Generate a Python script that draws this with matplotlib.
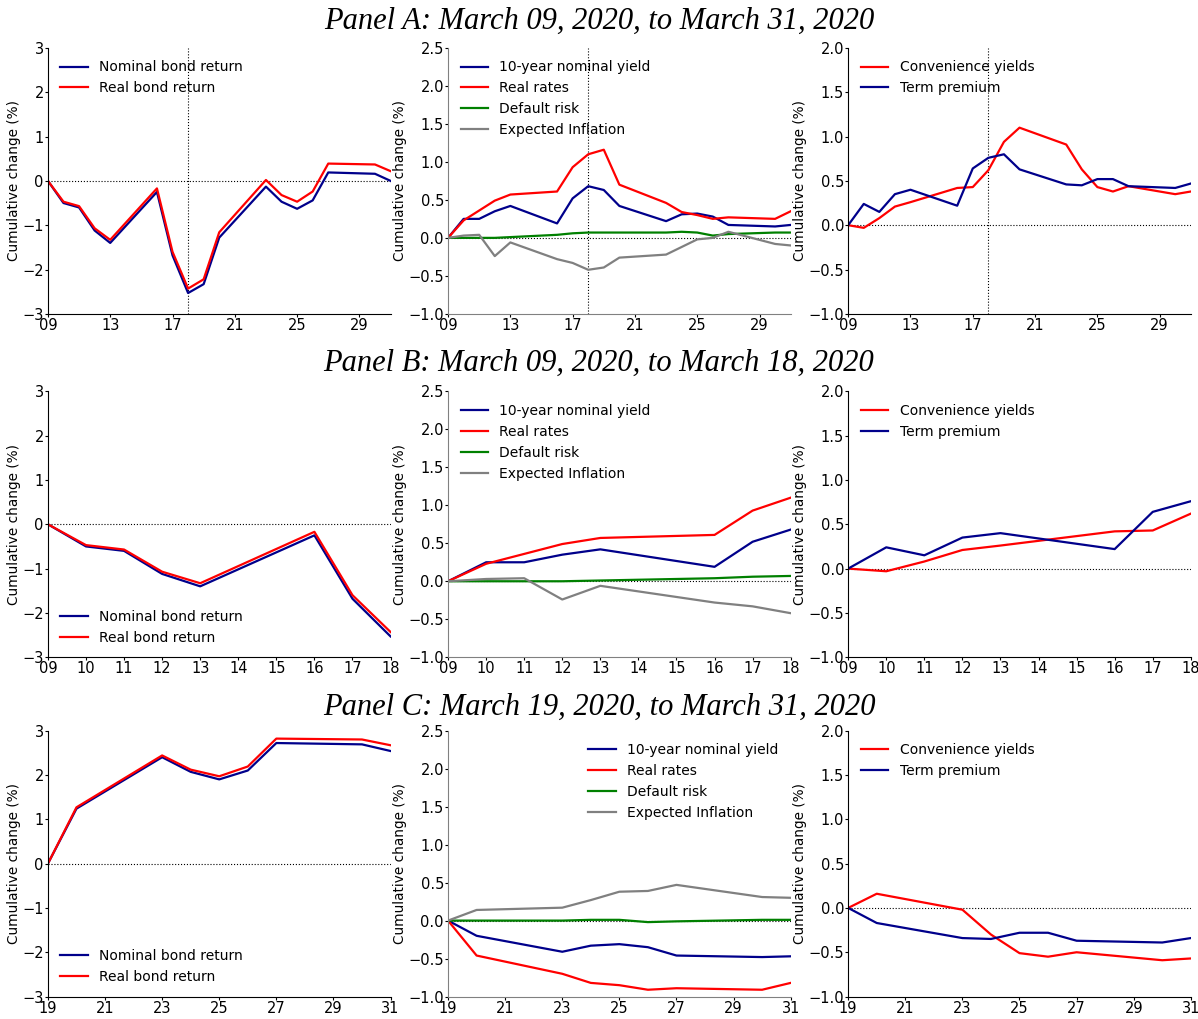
import matplotlib
matplotlib.use("Agg")
import matplotlib.pyplot as plt

# trading days (calendar day of March 2020)
days_a = [9, 10, 11, 12, 13, 16, 17, 18, 19, 20, 23, 24, 25, 26, 27, 30, 31]
days_b = [9, 10, 11, 12, 13, 16, 17, 18]
days_c = [19, 20, 23, 24, 25, 26, 27, 30, 31]

# Panel A
nom_ret_a = [0, -0.50, -0.60, -1.12, -1.40, -0.25, -1.68, -2.53, -2.33, -1.28, -0.13, -0.47, -0.63, -0.44, 0.19, 0.16, 0.00]
real_ret_a = [0, -0.47, -0.57, -1.07, -1.33, -0.17, -1.60, -2.43, -2.22, -1.16, 0.02, -0.32, -0.47, -0.24, 0.39, 0.37, 0.22]
nom_yld_a = [0, 0.25, 0.25, 0.35, 0.42, 0.19, 0.52, 0.68, 0.63, 0.42, 0.22, 0.31, 0.32, 0.28, 0.17, 0.15, 0.17]
real_rate_a = [0, 0.23, 0.36, 0.49, 0.57, 0.61, 0.93, 1.10, 1.16, 0.70, 0.46, 0.34, 0.30, 0.25, 0.27, 0.25, 0.35]
default_a = [0, 0.00, 0.00, 0.00, 0.01, 0.04, 0.06, 0.07, 0.07, 0.07, 0.07, 0.08, 0.07, 0.03, 0.05, 0.07, 0.07]
infl_a = [0, 0.03, 0.04, -0.24, -0.06, -0.28, -0.33, -0.42, -0.39, -0.26, -0.22, -0.12, -0.02, 0.00, 0.08, -0.08, -0.10]
conv_a = [0, -0.03, 0.08, 0.21, 0.26, 0.42, 0.43, 0.62, 0.94, 1.10, 0.91, 0.63, 0.43, 0.38, 0.44, 0.35, 0.38]
term_a = [0, 0.24, 0.15, 0.35, 0.40, 0.22, 0.64, 0.76, 0.80, 0.63, 0.46, 0.45, 0.52, 0.52, 0.44, 0.42, 0.47]

# Panel B
nom_ret_b = [0, -0.50, -0.60, -1.12, -1.40, -0.25, -1.68, -2.53]
real_ret_b = [0, -0.47, -0.57, -1.07, -1.33, -0.17, -1.60, -2.43]
nom_yld_b = [0, 0.25, 0.25, 0.35, 0.42, 0.19, 0.52, 0.68]
real_rate_b = [0, 0.23, 0.36, 0.49, 0.57, 0.61, 0.93, 1.10]
default_b = [0, 0.00, 0.00, 0.00, 0.01, 0.04, 0.06, 0.07]
infl_b = [0, 0.03, 0.04, -0.24, -0.06, -0.28, -0.33, -0.42]
conv_b = [0, -0.03, 0.08, 0.21, 0.26, 0.42, 0.43, 0.62]
term_b = [0, 0.24, 0.15, 0.35, 0.40, 0.22, 0.64, 0.76]

# Panel C
nom_ret_c = [0, 1.24, 2.40, 2.07, 1.90, 2.10, 2.72, 2.69, 2.54]
real_ret_c = [0, 1.27, 2.44, 2.12, 1.97, 2.19, 2.82, 2.80, 2.67]
nom_yld_c = [0, -0.20, -0.41, -0.33, -0.31, -0.35, -0.46, -0.48, -0.47]
real_rate_c = [0, -0.46, -0.70, -0.82, -0.85, -0.91, -0.89, -0.91, -0.82]
default_c = [0, 0.00, 0.00, 0.01, 0.01, -0.02, -0.01, 0.01, 0.01]
infl_c = [0, 0.14, 0.17, 0.27, 0.38, 0.39, 0.47, 0.31, 0.30]
conv_c = [0, 0.16, -0.02, -0.30, -0.51, -0.55, -0.50, -0.59, -0.57]
term_c = [0, -0.17, -0.34, -0.35, -0.28, -0.28, -0.37, -0.39, -0.34]

titles = ["Panel A: March 09, 2020, to March 31, 2020",
          "Panel B: March 09, 2020, to March 18, 2020",
          "Panel C: March 19, 2020, to March 31, 2020"]

navy = '#00008B'
ylab = 'Cumulative change (%)'

fig = plt.figure(figsize=(11.98, 10.19), dpi=100)

lefts = [0.040, 0.374, 0.708]
bottoms = [0.692, 0.355, 0.022]
w, h = 0.286, 0.261

rows = [
    (days_a, nom_ret_a, real_ret_a, nom_yld_a, real_rate_a, default_a, infl_a, conv_a, term_a),
    (days_b, nom_ret_b, real_ret_b, nom_yld_b, real_rate_b, default_b, infl_b, conv_b, term_b),
    (days_c, nom_ret_c, real_ret_c, nom_yld_c, real_rate_c, default_c, infl_c, conv_c, term_c),
]
xticks = [[9, 13, 17, 21, 25, 29], list(range(9, 19)), [19, 21, 23, 25, 27, 29, 31]]
xlims = [(9, 31), (9, 18), (19, 31)]
title_y = [0.979, 0.643, 0.306]


def style(ax, r, spine_color='black'):
    ax.spines['top'].set_visible(False)
    ax.spines['right'].set_visible(False)
    ax.spines['left'].set_color(spine_color)
    ax.spines['bottom'].set_color(spine_color)
    ax.set_xlim(*xlims[r])
    ax.set_xticks(xticks[r])
    ax.set_xticklabels(['%02d' % t for t in xticks[r]])
    ax.tick_params(labelsize=10.5, length=2, pad=1)
    ax.set_ylabel(ylab, fontsize=9.8, labelpad=1)
    ax.axhline(0, color='black', lw=0.8, ls=':', zorder=0)
    if r == 0:
        ax.axvline(18, color='black', lw=0.8, ls=':', zorder=0)


for r, (d, nr, rr, ny, rt, df_, inf, cv, tp) in enumerate(rows):
    fig.text(0.5, title_y[r], titles[r], ha='center', va='center',
             fontsize=22, style='italic', family='Liberation Serif')

    ax1 = fig.add_axes([lefts[0], bottoms[r], w, h])
    ax1.plot(d, nr, color=navy, lw=1.6, label='Nominal bond return')
    ax1.plot(d, rr, color='red', lw=1.6, label='Real bond return')
    ax1.set_ylim(-3, 3)
    ax1.set_yticks([-3, -2, -1, 0, 1, 2, 3])
    style(ax1, r)
    ax1.legend(loc='upper left' if r == 0 else 'lower left', frameon=False, fontsize=10)

    ax2 = fig.add_axes([lefts[1], bottoms[r], w, h])
    ax2.plot(d, ny, color=navy, lw=1.6, label='10-year nominal yield')
    ax2.plot(d, rt, color='red', lw=1.6, label='Real rates')
    ax2.plot(d, df_, color='green', lw=1.6, label='Default risk')
    ax2.plot(d, inf, color='gray', lw=1.6, label='Expected Inflation')
    ax2.set_ylim(-1, 2.5)
    ax2.set_yticks([-1.0, -0.5, 0.0, 0.5, 1.0, 1.5, 2.0, 2.5])
    style(ax2, r, spine_color='gray')
    ax2.legend(loc='upper right' if r == 2 else 'upper left', frameon=False, fontsize=10)

    ax3 = fig.add_axes([lefts[2], bottoms[r], w, h])
    ax3.plot(d, cv, color='red', lw=1.6, label='Convenience yields')
    ax3.plot(d, tp, color=navy, lw=1.6, label='Term premium')
    ax3.set_ylim(-1, 2)
    ax3.set_yticks([-1.0, -0.5, 0.0, 0.5, 1.0, 1.5, 2.0])
    style(ax3, r)
    ax3.legend(loc='upper left', frameon=False, fontsize=10)

fig.savefig('out.png', dpi=100)
